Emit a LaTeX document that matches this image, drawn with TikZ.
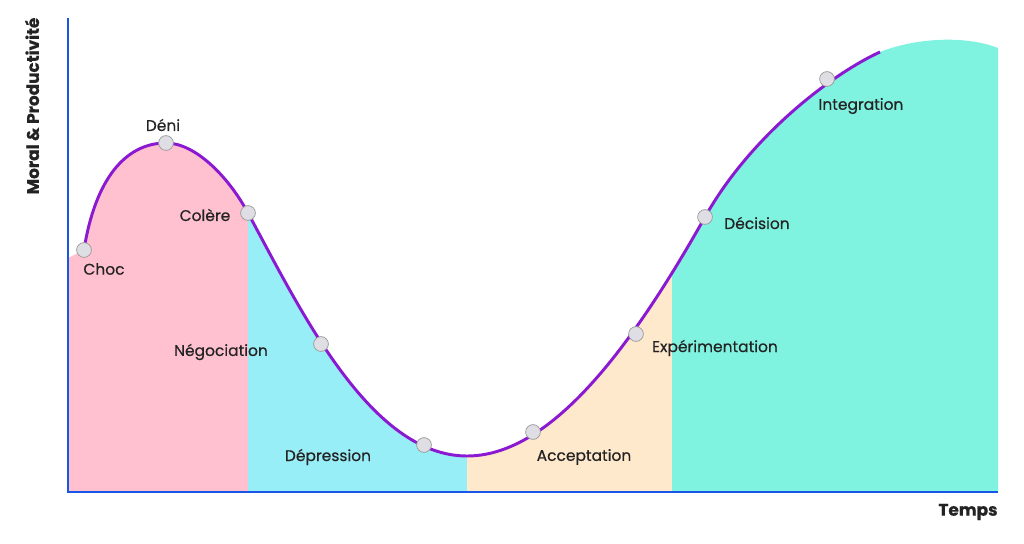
\documentclass[tikz,border=0pt]{standalone}
\usepackage{fontspec}
\setmainfont{Poppins}[FakeBold=0.5]
\definecolor{axisblue}{RGB}{25,85,230}
\definecolor{curvepurple}{RGB}{140,25,210}
\definecolor{chocpink}{RGB}{255,193,207}
\definecolor{depressioncyan}{RGB}{152,238,246}
\definecolor{acceptbeige}{RGB}{255,233,204}
\definecolor{integrationteal}{RGB}{128,242,224}
\definecolor{dotgray}{RGB}{222,222,228}
\definecolor{labelgray}{RGB}{35,35,35}
\usepackage{tikz}
\usetikzlibrary{positioning}

% the change curve, in pixel units
\newcommand{\moralcurve}{(84,250) .. controls (95,180) and (125,143) .. (166,143)
  .. controls (195,143) and (228,176) .. (248,213)
  .. controls (300,309) and (370,456) .. (467,456)
  .. controls (550,456) and (630,350) .. (705,217)
  .. controls (750,137) and (830,75) .. (880,52)}
\newcommand{\moralarea}{\moralcurve .. controls (915,38) and (965,35) .. (998,48)
  -- (998,492) -- (68,492) -- (68,258) -- cycle}

\begin{document}
\begin{tikzpicture}[x=0.025cm,y=-0.025cm,
    axis/.style={line width=2.1pt,axisblue},
    phasedot/.style={circle,draw=gray!80,fill=dotgray,line width=0.5pt,minimum size=0.37cm,inner sep=0pt},
    phase/.style={font=\fontsize{11}{13}\selectfont,text=labelgray,inner sep=1pt},
    axistitle/.style={font=\fontsize{12}{14}\selectfont\bfseries,text=labelgray}]
    \useasboundingbox (0,0) rectangle (1024,544);

    % coloured phases under the curve
    \begin{scope}
        \clip (60,0) rectangle (248,500);
        \fill[chocpink] \moralarea;
    \end{scope}
    \begin{scope}
        \clip (248,0) rectangle (467,500);
        \fill[depressioncyan] \moralarea;
    \end{scope}
    \begin{scope}
        \clip (467,0) rectangle (672,500);
        \fill[acceptbeige] \moralarea;
    \end{scope}
    \begin{scope}
        \clip (672,0) rectangle (998,500);
        \fill[integrationteal] \moralarea;
    \end{scope}

    % axes
    \coordinate (ytop) at (68,18);
    \coordinate (origin) at (68,492);
    \coordinate (xend) at (998,492);
    \draw[axis] (ytop) -- (origin) -- (xend);
    \node[axistitle] (temps) at (968,512) {Temps};
    \node[axistitle,rotate=90] (moral) at (32,106) {Moral \& Productivité};

    % curve
    \draw[line width=2.1pt,curvepurple] \moralcurve;

    % phases
    \node[phasedot] (p-choc) at (84,250) {};
    \node[phasedot] (p-deni) at (166,143) {};
    \node[phasedot] (p-colere) at (248,213) {};
    \node[phasedot] (p-negociation) at (321,344) {};
    \node[phasedot] (p-depression) at (424,445) {};
    \node[phasedot] (p-acceptation) at (533,432) {};
    \node[phasedot] (p-experimentation) at (636,334) {};
    \node[phasedot] (p-decision) at (705,217) {};
    \node[phasedot] (p-integration) at (827,79) {};

    \node[phase] (choc) at (104,269) {Choc};
    \node[phase] (deni) at (163,125) {Déni};
    \node[phase] (colere) at (205,215) {Colère};
    \node[phase] (negociation) at (221,352) {Négociation};
    \node[phase] (depression) at (328,457) {Dépression};
    \node[phase] (acceptation) at (584,457) {Acceptation};
    \node[phase] (experimentation) at (715,348) {Expérimentation};
    \node[phase] (decision) at (757,223) {Décision};
    \node[phase] (integration) at (861,106) {Integration};
\end{tikzpicture}
\end{document}
